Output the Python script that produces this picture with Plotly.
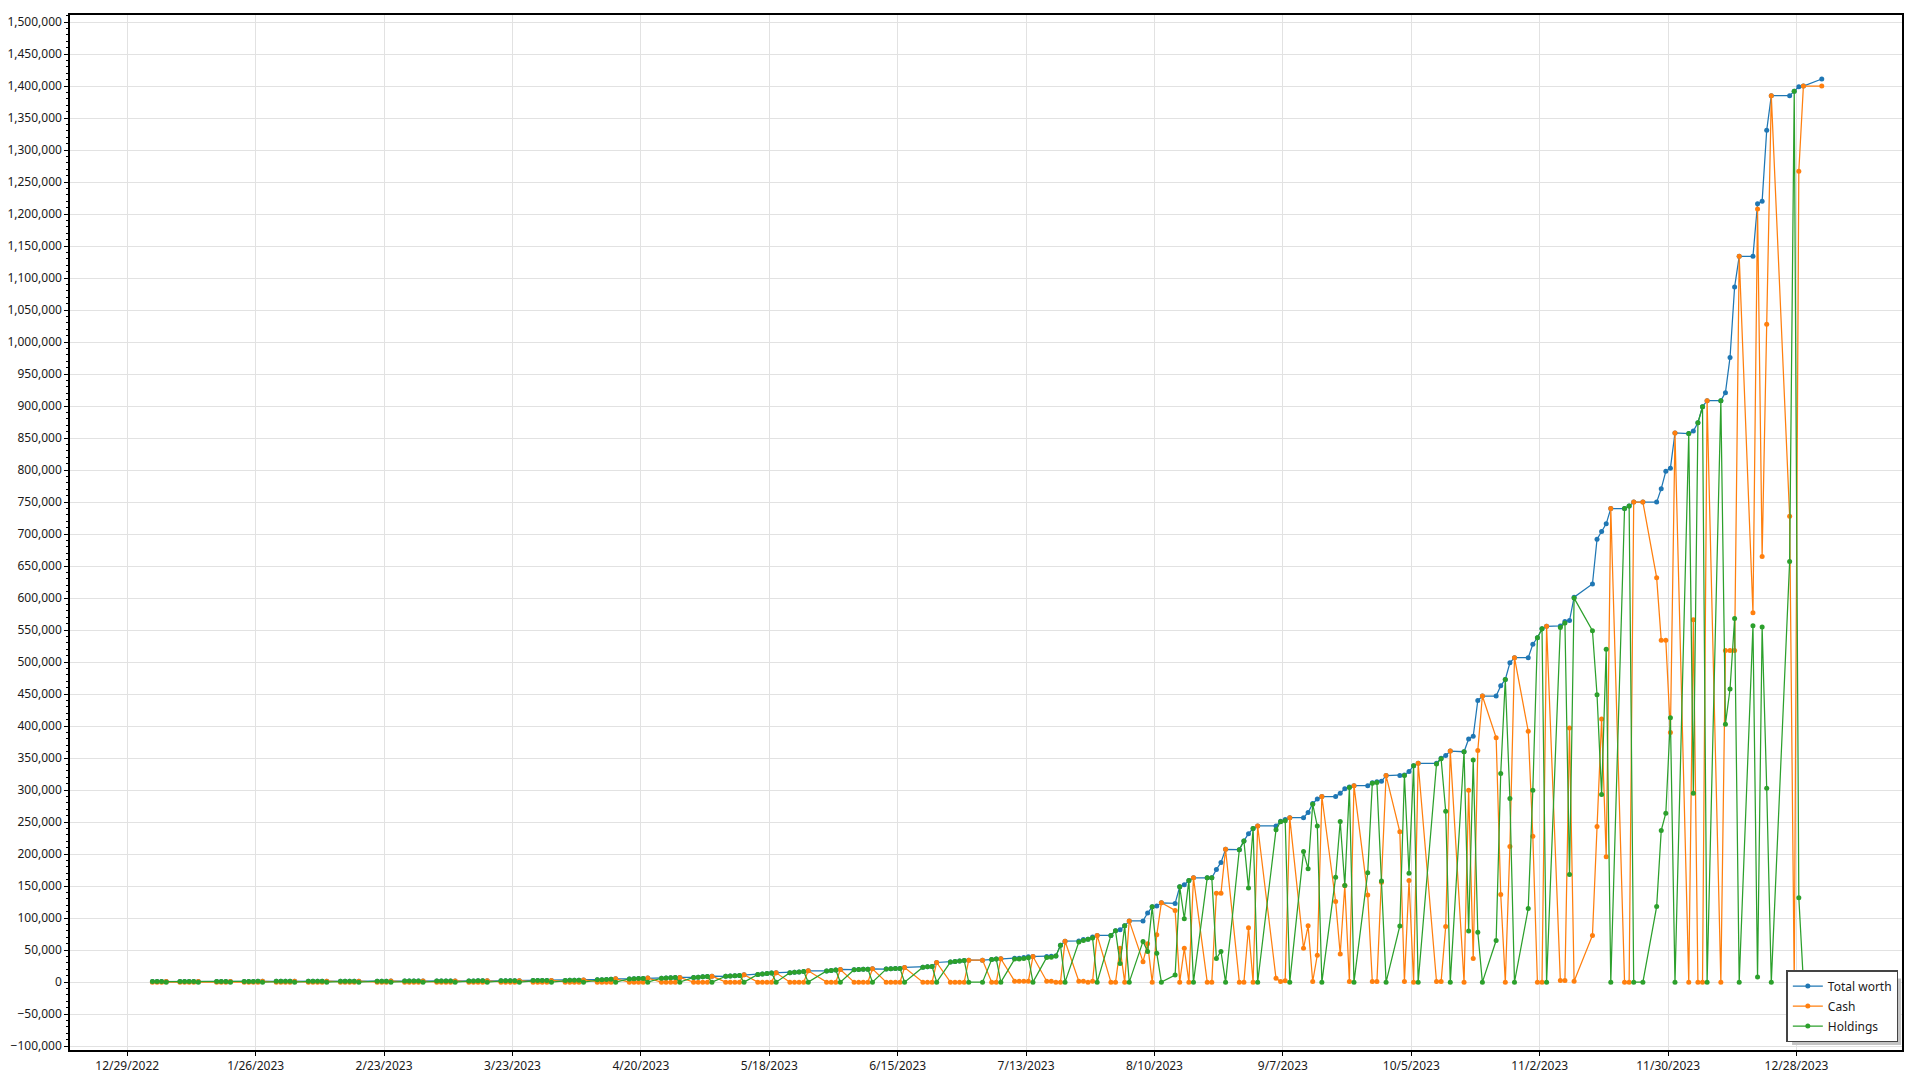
import numpy as np
import pandas as pd
import plotly.graph_objects as go

# ---------------- data ----------------
start_date = "2023-01-03"
end_date = "2024-01-02"
holidays = ["2023-01-02", "2023-01-16", "2023-02-20", "2023-05-29", "2023-06-19",
            "2023-07-04", "2023-09-04", "2023-10-09", "2023-11-10", "2023-11-23",
            "2023-12-25", "2024-01-01"]

# values in thousands
total_k = [
    # Jan
    1.00, 1.01, 1.02, 1.04,
    1.05, 1.06, 1.08, 1.09, 1.11,
    1.12, 1.14, 1.15, 1.17,
    1.18, 1.20, 1.21, 1.23, 1.25,
    1.26, 1.28,
    # Feb
    1.29, 1.31, 1.33,
    1.34, 1.36, 1.38, 1.40, 1.42,
    1.44, 1.46, 1.48, 1.50, 1.52,
    1.54, 1.57, 1.59, 1.62,
    1.64, 1.67,
    # Mar
    1.69, 1.72, 1.75,
    1.78, 1.81, 1.84, 1.87, 1.91,
    1.94, 1.98, 2.02, 2.06, 2.10,
    2.14, 2.19, 2.24, 2.29, 2.34,
    2.39, 2.45, 2.51, 2.57, 2.64,
    # Apr
    2.72, 2.85, 3.00, 3.15, 3.40,
    3.60, 3.90, 4.20, 4.50, 5.20,
    5.00, 5.30, 5.60, 5.90, 6.30,
    6.20, 6.60, 6.90, 7.20, 7.30,
    # May
    7.40, 7.80, 8.30, 8.90, 9.40,
    9.20, 9.60, 10.0, 10.4, 11.5,
    12.0, 12.8, 13.6, 14.4, 14.6,
    14.8, 15.4, 16.0, 16.7, 17.7,
    17.5, 18.3,
    # Jun
    19.0, 19.8,
    19.5, 19.8, 20.0, 20.3, 20.8,
    20.5, 20.8, 21.2, 21.5, 22.9,
    23.4, 24.0, 24.5, 30.7,
    31.3, 32.3, 33.0, 33.9, 34.4,
    # Jul
    34.4, 35.4, 36.0, 36.6,
    37.5, 37.5, 38.5, 39.7, 40.0,
    40.2, 40.5, 41.0, 57.5, 64.0,
    64.3, 66.5, 67.0, 70.5, 73.0,
    73.0,
    # Aug
    80.5, 82.0, 88.0, 95.7,
    95.7, 108.0, 117.7, 119.0, 124.0,
    123.0, 149.0, 152.0, 159.0, 163.0,
    163.0, 163.0, 176.0, 187.0, 207.6,
    207.0, 220.7, 232.0, 240.0,
    # Sep
    244.0,
    244.0, 251.5, 254.0, 257.0,
    257.0, 265.0, 279.0, 286.0, 290.0,
    290.0, 295.0, 302.0, 305.0, 307.0,
    307.0, 311.6, 313.0, 314.0, 322.7,
    # Oct
    322.7, 323.7, 329.0, 338.0, 342.0,
    342.0, 350.0, 354.0, 361.0,
    360.0, 380.0, 384.0, 440.0, 447.0,
    447.0, 463.0, 473.0, 499.0, 507.0,
    507.0, 528.0,
    # Nov
    538.0, 552.0, 556.0,
    556.6, 563.6, 565.0, 601.5,
    622.0, 692.0, 704.0, 716.0, 740.0,
    740.0, 744.0, 750.0, 750.0,
    750.0, 771.0, 798.0, 803.0,
    # Dec
    858.0,
    857.0, 861.0, 874.0, 899.0, 908.5,
    908.5, 921.0, 976.0, 1086.0, 1134.0,
    1134.0, 1216.0, 1220.0, 1331.0, 1385.0,
    1385.0, 1392.0, 1399.0, 1400.0,
    # Jan 2024
    1411.0,
]

cash_k = [
    # Jan
    0, 0, 0, 1.04,
    0, 0, 0, 0, 1.11,
    0, 0, 0, 1.17,
    0, 0, 0, 0, 1.25,
    0, 0,
    # Feb
    0, 0, 1.33,
    0, 0, 0, 0, 1.42,
    0, 0, 0, 0, 1.52,
    0, 0, 0, 1.62,
    0, 0,
    # Mar
    0, 0, 1.75,
    0, 0, 0, 0, 1.91,
    0, 0, 0, 0, 2.10,
    0, 0, 0, 0, 2.34,
    0, 0, 0, 0, 2.64,
    # Apr
    0, 0, 0, 0, 3.40,
    0, 0, 0, 0, 5.20,
    0, 0, 0, 0, 6.30,
    0, 0, 0, 0, 7.30,
    # May
    0, 0, 0, 0, 9.40,
    0, 0, 0, 0, 11.5,
    0, 0, 0, 0, 14.6,
    0, 0, 0, 0, 17.7,
    0, 0,
    # Jun
    0, 19.8,
    0, 0, 0, 0, 20.8,
    0, 0, 0, 0, 22.9,
    0, 0, 0, 30.7,
    0, 0, 0, 0, 34.4,
    # Jul
    34.4, 0, 0, 36.6,
    1.5, 1.5, 1.5, 1.5, 40.0,
    1.5, 1.5, 0, 0, 64.0,
    1.5, 1.5, 0, 1.5, 73.0,
    0,
    # Aug
    0, 53.0, 0, 95.7,
    32.0, 60.0, 0, 74.0, 124.0,
    112.0, 0, 53.0, 0, 163.0,
    0, 0, 139.0, 139.0, 207.6,
    0, 0, 85.0, 0,
    # Sep
    244.0,
    6.0, 1.0, 2.0, 257.0,
    53.0, 88.0, 1.0, 42.0, 290.0,
    126.0, 44.0, 151.0, 1.0, 307.0,
    136.0, 1.0, 1.0, 156.0, 322.7,
    # Oct
    235.0, 1.0, 159.0, 0, 342.0,
    1.0, 1.0, 87.0, 361.0,
    0, 300.0, 37.0, 362.0, 447.0,
    382.0, 137.0, 0, 212.0, 507.0,
    392.0, 228.0,
    # Nov
    0, 0, 556.0,
    2.6, 2.6, 397.0, 1.5,
    73.0, 243.0, 411.0, 196.0, 740.0,
    0, 0, 750.0, 750.0,
    632.0, 534.0, 534.0, 390.0,
    # Dec
    858.0,
    0, 566.0, 0, 0, 908.5,
    0, 518.0, 518.0, 518.0, 1134.0,
    577.0, 1208.0, 665.0, 1028.0, 1385.0,
    728.0, 0, 1267.0, 1400.0,
    # Jan 2024
    1400.0,
]

holdings_k = [
    # Jan
    1.00, 1.01, 1.02, 0,
    1.05, 1.06, 1.08, 1.09, 0,
    1.12, 1.14, 1.15, 0,
    1.18, 1.20, 1.21, 1.23, 0,
    1.26, 1.28,
    # Feb
    1.29, 1.31, 0,
    1.34, 1.36, 1.38, 1.40, 0,
    1.44, 1.46, 1.48, 1.50, 0,
    1.54, 1.57, 1.59, 0,
    1.64, 1.67,
    # Mar
    1.69, 1.72, 0,
    1.78, 1.81, 1.84, 1.87, 0,
    1.94, 1.98, 2.02, 2.06, 0,
    2.14, 2.19, 2.24, 2.29, 0,
    2.39, 2.45, 2.51, 2.57, 0,
    # Apr
    2.72, 2.85, 3.00, 3.15, 0,
    3.60, 3.90, 4.20, 4.50, 0,
    5.00, 5.30, 5.60, 5.90, 0,
    6.20, 6.60, 6.90, 7.20, 0,
    # May
    7.40, 7.80, 8.30, 8.90, 0,
    9.20, 9.60, 10.0, 10.4, 0,
    12.0, 12.8, 13.6, 14.4, 0,
    14.8, 15.4, 16.0, 16.7, 0,
    17.5, 18.3,
    # Jun
    19.0, 0,
    19.5, 19.8, 20.0, 20.3, 0,
    20.5, 20.8, 21.2, 21.5, 0,
    23.4, 24.0, 24.5, 0,
    31.3, 32.3, 33.0, 33.9, 0,
    # Jul
    0, 35.4, 36.0, 0,
    36.0, 36.0, 37.0, 38.2, 0,
    38.7, 39.0, 41.0, 57.5, 0,
    62.8, 65.0, 67.0, 69.0, 0,
    73.0,
    # Aug
    80.5, 29.0, 88.0, 0,
    63.7, 48.0, 117.7, 45.0, 0,
    11.0, 149.0, 99.0, 159.0, 0,
    163.0, 163.0, 37.0, 48.0, 0,
    207.0, 220.7, 147.0, 240.0,
    # Sep
    0,
    238.0, 250.5, 252.0, 0,
    204.0, 177.0, 278.0, 244.0, 0,
    164.0, 251.0, 151.0, 304.0, 0,
    171.0, 310.6, 312.0, 158.0, 0,
    # Oct
    87.7, 322.7, 170.0, 338.0, 0,
    341.0, 349.0, 267.0, 0,
    360.0, 80.0, 347.0, 78.0, 0,
    65.0, 326.0, 473.0, 287.0, 0,
    115.0, 300.0,
    # Nov
    538.0, 552.0, 0,
    554.0, 561.0, 168.0, 600.0,
    549.0, 449.0, 293.0, 520.0, 0,
    740.0, 744.0, 0, 0,
    118.0, 237.0, 264.0, 413.0,
    # Dec
    0,
    857.0, 295.0, 874.0, 899.0, 0,
    908.5, 403.0, 458.0, 568.0, 0,
    557.0, 8.0, 555.0, 303.0, 0,
    657.0, 1392.0, 132.0, 0,
    # Jan 2024
    11.0,
]

series_names = ["Total worth", "Cash", "Holdings"]
series_colors = ["#1f77b4", "#ff7f0e", "#2ca02c"]

# trading days (points sit around mid-day)
dates = pd.bdate_range(start_date, end_date, freq="C", holidays=holidays) + pd.Timedelta(hours=12)
assert len(dates) == len(total_k) == len(cash_k) == len(holdings_k), (
    len(dates), len(total_k), len(cash_k), len(holdings_k))

# ---------------- figure ----------------
fig = go.Figure()
for name, vals, col in zip(series_names, [total_k, cash_k, holdings_k], series_colors):
    fig.add_trace(go.Scatter(
        x=dates, y=np.array(vals, dtype=float) * 1000, name=name,
        mode="lines+markers", legendgroup=name,
        line=dict(color=col, width=1.25),
        marker=dict(color=col, size=5),
    ))

FONT = "Noto Sans, Open Sans, DejaVu Sans, sans-serif"
# the page body has an 8px default margin, so the figure is 8px smaller
fig.update_layout(
    width=1912, height=1072,
    margin=dict(l=62, r=18, t=7, b=30, autoexpand=False),
    paper_bgcolor="white", plot_bgcolor="white",
    font=dict(family=FONT, size=12, color="#1a1a1a"),
    showlegend=True,
    legend=dict(x=0.998, y=0.0077, xanchor="right", yanchor="bottom",
                bgcolor="white", bordercolor="#444444", borderwidth=1.5,
                traceorder="grouped", tracegroupgap=1,
                font=dict(family=FONT, size=12, color="#1a1a1a")),
    shapes=[dict(type="rect", xref="paper", yref="paper",
                 x0=0.9400, x1=0.9995, y0=0.0048, y1=0.0690,
                 fillcolor="#c4c4c4", line=dict(width=0), layer="above")],
)
fig.update_xaxes(
    type="date", range=["2022-12-16 12:30", "2024-01-20 00:00"],
    tick0="2022-12-29", dtick=28 * 86400000, tickformat="%-m/%-d/%Y",
    showgrid=True, gridcolor="#e2e2e2", gridwidth=1,
    showline=True, linecolor="black", linewidth=1.5, mirror=True,
    ticks="outside", ticklen=4, tickcolor="black", zeroline=False,
)
fig.update_yaxes(
    range=[-106000, 1511000], tick0=0, dtick=50000, tickformat=",d",
    showgrid=True, gridcolor="#e2e2e2", gridwidth=1,
    showline=True, linecolor="black", linewidth=1.5, mirror=True,
    ticks="outside", ticklen=4, tickcolor="black", zeroline=False,
    minor=dict(dtick=10000, ticks="outside", ticklen=2, tickcolor="black", showgrid=False),
)

fig.write_html("out.html")
